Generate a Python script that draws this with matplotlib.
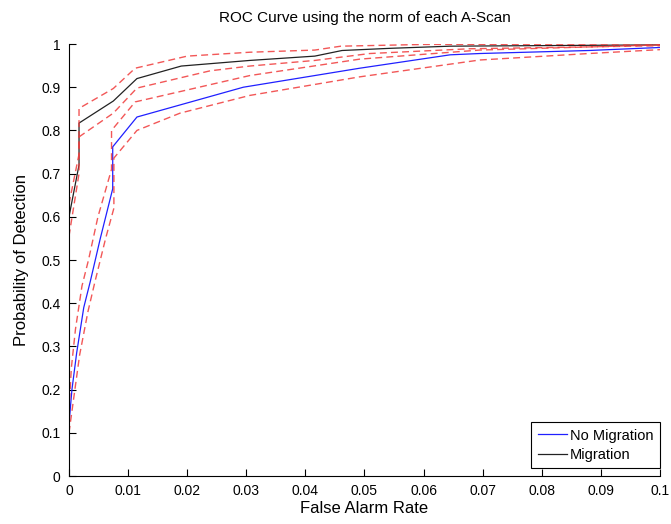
import matplotlib.pyplot as plt

plt.rcParams['font.family'] = ['Liberation Sans', 'DejaVu Sans']

# ROC data (false alarm rate, probability of detection)
nomig_x = [0, 0.0005, 0.0013, 0.0025, 0.0036, 0.0053, 0.0074, 0.0074, 0.0115,
           0.0295, 0.0492, 0.0645, 0.0695, 0.088, 0.1]
nomig_y = [0.12, 0.20, 0.285, 0.39, 0.45, 0.55, 0.665, 0.762, 0.831,
           0.90, 0.944, 0.975, 0.978, 0.985, 0.992]

nomig_up_x = [0, 0.0004, 0.0011, 0.0022, 0.0033, 0.0049, 0.0072, 0.0072, 0.0112,
              0.0306, 0.0492, 0.0695, 0.1]
nomig_up_y = [0.15, 0.25, 0.34, 0.44, 0.50, 0.60, 0.71, 0.80, 0.866,
              0.927, 0.965, 0.986, 0.998]

nomig_lo_x = [0, 0.0008, 0.0018, 0.0032, 0.0044, 0.0062, 0.0076, 0.0076, 0.0115,
              0.0188, 0.0306, 0.0492, 0.0695, 0.088, 0.1]
nomig_lo_y = [0.10, 0.18, 0.28, 0.38, 0.45, 0.55, 0.62, 0.736, 0.80,
              0.84, 0.881, 0.924, 0.963, 0.978, 0.987]

mig_x = [0, 0.0017, 0.0017, 0.0075, 0.0115, 0.019, 0.0306, 0.0416, 0.0462,
         0.0543, 0.0645, 0.1]
mig_y = [0.60, 0.72, 0.817, 0.868, 0.92, 0.949, 0.962, 0.972, 0.985,
         0.99, 0.995, 0.998]

mig_up_x = [0, 0.0017, 0.0017, 0.0075, 0.0112, 0.02, 0.0306, 0.0416, 0.046,
            0.06, 0.1]
mig_up_y = [0.63, 0.745, 0.851, 0.897, 0.944, 0.972, 0.981, 0.986, 0.995,
            0.999, 1.0]

mig_lo_x = [0, 0.0017, 0.0017, 0.0075, 0.0115, 0.0239, 0.0306, 0.0416, 0.0509,
            0.0678, 0.1]
mig_lo_y = [0.555, 0.70, 0.785, 0.84, 0.898, 0.938, 0.949, 0.962, 0.978,
            0.989, 0.996]

xticks = [0, 0.01, 0.02, 0.03, 0.04, 0.05, 0.06, 0.07, 0.08, 0.09, 0.1]
xtick_labels = ['0', '0.01', '0.02', '0.03', '0.04', '0.05', '0.06', '0.07',
                '0.08', '0.09', '0.1']
yticks = [0, 0.1, 0.2, 0.3, 0.4, 0.5, 0.6, 0.7, 0.8, 0.9, 1]
ytick_labels = ['0', '0.1', '0.2', '0.3', '0.4', '0.5', '0.6', '0.7', '0.8',
                '0.9', '1']

fig = plt.figure(figsize=(6.71, 5.24), dpi=100)
ax = fig.add_axes([0.1028, 0.0916, 0.8808, 0.8244])

red = '#f03a3a'
ax.plot(nomig_x, nomig_y, color='#2020ff', lw=0.9, label='No Migration')
ax.plot(mig_x, mig_y, color='#222222', lw=0.9, label='Migration')
for bx, by in [(nomig_up_x, nomig_up_y), (nomig_lo_x, nomig_lo_y),
               (mig_up_x, mig_up_y), (mig_lo_x, mig_lo_y)]:
    ax.plot(bx, by, color=red, lw=1.0, ls=(0, (5, 3)), alpha=0.85)

ax.set_xlim(0, 0.1)
ax.set_ylim(0, 1)
ax.set_xticks(xticks)
ax.set_xticklabels(xtick_labels)
ax.set_yticks(yticks)
ax.set_yticklabels(ytick_labels)
ax.tick_params(direction='in', length=5, width=0.8, labelsize=10, pad=6)

for side in ['top', 'right']:
    ax.spines[side].set_visible(False)
for side in ['left', 'bottom']:
    ax.spines[side].set_linewidth(0.8)

ax.set_title('ROC Curve using the norm of each A-Scan', fontsize=11, pad=16)
ax.set_xlabel('False Alarm Rate', fontsize=12, labelpad=2)
ax.set_ylabel('Probability of Detection', fontsize=12, labelpad=9)

leg = ax.legend(loc='lower right', bbox_to_anchor=(1.0, 0.018), fontsize=10.5,
                fancybox=False, edgecolor='black', framealpha=1,
                handlelength=2.0, borderpad=0.45, labelspacing=0.35,
                handletextpad=0.2, borderaxespad=0)
leg.get_frame().set_linewidth(0.8)

fig.savefig('out.png', dpi=100)
